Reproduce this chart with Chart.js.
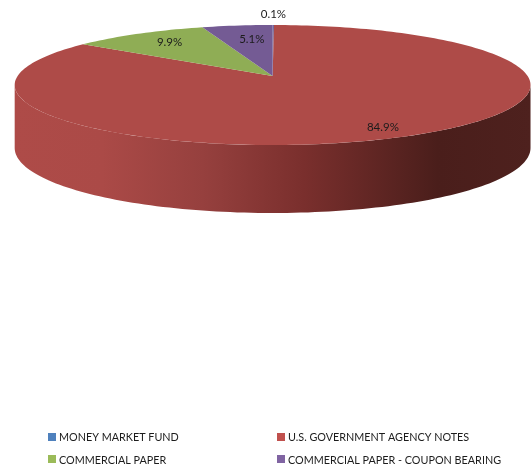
<!DOCTYPE html>
<html>
<head>
<meta charset="utf-8">
<script src="https://cdn.jsdelivr.net/npm/chart.js@4.4.0/dist/chart.umd.js"></script>
<style>
html,body{margin:0;padding:0;background:#fff;}
canvas{display:block;}
</style>
</head>
<body>
<canvas id="c-pie" width="531" height="472"></canvas>
<script>
// values
const categories=['MONEY MARKET FUND','U.S. GOVERNMENT AGENCY NOTES','COMMERCIAL PAPER','COMMERCIAL PAPER - COUPON BEARING'];
const shares=[0.1,84.9,9.9,5.1];
const faceColors=['#64609f','#ae4b48','#8fad55','#745b94'];
const legendColors=['#4f81bd','#c0504d','#9bbb59','#8064a2'];

// pie tilted in perspective: unit circle -> screen
const P={x:272.6,y:76,a:255,b:58.65,k:.15,depthSide:62,depthFront:68};
const project=(r,th)=>{
  const X=r*Math.sin(th),Y=r*Math.cos(th),w=1+P.k*Y;
  return [P.x+P.a*X/w,P.y-P.b*Y/w];
};
// where each label sits: along the radius, then a small sideways nudge
const labelRadius=[1.25,.87,.77,.70];
const labelNudge=[0,-3,3,5];

const side=Math.acos(-P.k); // where the rim turns away from the viewer

const piePlugin={
  id:'tiltedPie',
  beforeDatasetDraw(chart){
    const ctx=chart.ctx,arcs=chart.getDatasetMeta(0).data;
    // wall
    const g=ctx.createLinearGradient(14,0,531,0);
    g.addColorStop(0,'#ae4b48');g.addColorStop(.17,'#ab4a47');g.addColorStop(.365,'#96403e');
    g.addColorStop(.56,'#7a2f2d');g.addColorStop(.82,'#4a1e1b');g.addColorStop(1,'#4e211e');
    ctx.save();
    ctx.beginPath();
    for(let i=0;i<=120;i++){
      const p=project(1,side+i/120*(2*Math.PI-2*side));
      i?ctx.lineTo(p[0],p[1]):ctx.moveTo(p[0],p[1]);
    }
    for(let i=120;i>=0;i--){
      const th=side+i/120*(2*Math.PI-2*side),p=project(1,th);
      ctx.lineTo(p[0],p[1]+P.depthSide-(P.depthFront-P.depthSide)*Math.cos(th));
    }
    ctx.closePath();ctx.fillStyle=g;ctx.fill();
    // top face, angles come from the pie controller
    arcs.forEach((arc,i)=>{
      const a0=arc.startAngle+Math.PI/2,a1=arc.endAngle+Math.PI/2,n=Math.max(2,Math.ceil((a1-a0)*40));
      ctx.beginPath();ctx.moveTo(P.x,P.y);
      for(let j=0;j<=n;j++){
        const p=project(1,a0+(a1-a0)*j/n);
        ctx.lineTo(p[0],p[1]);
      }
      ctx.closePath();ctx.fillStyle=faceColors[i];ctx.fill();
    });
    ctx.restore();
    return false;
  },
  afterDraw(chart){
    const ctx=chart.ctx,arcs=chart.getDatasetMeta(0).data;
    ctx.save();
    ctx.font="11.5px Lato";ctx.fillStyle='#1c1c1c';ctx.textBaseline='middle';
    // data labels
    ctx.textAlign='center';
    arcs.forEach((arc,i)=>{
      const mid=(arc.startAngle+arc.endAngle)/2+Math.PI/2;
      const p=project(labelRadius[i],mid);
      ctx.fillText(shares[i].toFixed(1)+'%',p[0]+labelNudge[i],p[1]);
    });
    // legend, two columns
    ctx.font="10.8px Lato";
    ctx.textAlign='left';
    categories.forEach((c,i)=>{
      const x=i%2?277:48,y=i<2?433:455;
      ctx.fillStyle=legendColors[i];ctx.fillRect(x,y,8,8);
      ctx.fillStyle='#1c1c1c';ctx.fillText(c,x+11,i<2?438:461);
    });
    ctx.restore();
  }
};

new Chart(document.getElementById('c-pie').getContext('2d'),{
  type:'pie',
  data:{labels:categories,datasets:[{data:shares,backgroundColor:faceColors,borderWidth:0}]},
  options:{
    responsive:false,animation:false,
    plugins:{legend:{display:false},tooltip:{enabled:false}}
  },
  plugins:[piePlugin]
});
</script>
</body>
</html>
